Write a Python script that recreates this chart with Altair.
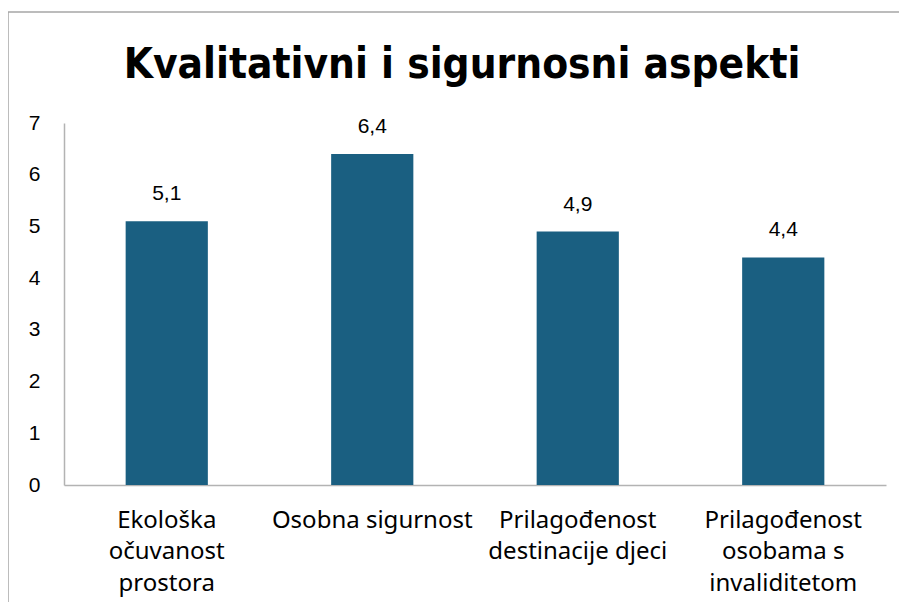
import altair as alt
import pandas as pd

# ---- data ----
category_lines = [
    ["Ekološka", "očuvanost", "prostora"],
    ["Osobna sigurnost"],
    ["Prilagođenost", "destinacije djeci"],
    ["Prilagođenost", "osobama s", "invaliditetom"],
]
values = [5.1, 6.4, 4.9, 4.4]
y_ticks = [0, 1, 2, 3, 4, 5, 6, 7]
title_text = "Kvalitativni i sigurnosni aspekti"

keys = ["|".join(lines) for lines in category_lines]
df = pd.DataFrame({"key": keys, "value": values})

BAR = "#1a5f81"
AXIS = "#b3b3b3"
FRAME = "#a6a6a6"

W, H = 822, 362

frame = alt.Chart(pd.DataFrame({"a": [0]})).mark_rect(
    fill="white", fillOpacity=0, stroke=FRAME, strokeWidth=1.5
).encode(
    x=alt.value(-56), x2=alt.value(W + 100),
    y=alt.value(-111), y2=alt.value(H + 200),
)

title = alt.Chart(pd.DataFrame({"t": [title_text]})).mark_text(
    font="DejaVu Sans Condensed", fontSize=42, fontWeight="bold",
    color="#000000", baseline="alphabetic", align="center",
).encode(text="t:N", x=alt.value(W / 2 - 13), y=alt.value(-45))

base = alt.Chart(df).encode(
    x=alt.X("key:N", sort=keys, title=None,
            scale=alt.Scale(paddingInner=0.6, paddingOuter=0.3),
            axis=alt.Axis(labelExpr="split(datum.value, '|')", labelAngle=0,
                          labelFont="Noto Sans", labelFontSize=24,
                          labelLineHeight=31.5, labelColor="#000000",
                          labelPadding=23, labelBaseline="top",
                          ticks=False, domainColor=AXIS, domainWidth=1.5,
                          labelLimit=300)),
    y=alt.Y("value:Q", title=None,
            scale=alt.Scale(domain=[0, 7], nice=False),
            axis=alt.Axis(values=y_ticks, grid=False, ticks=False,
                          labelFont="Liberation Sans", labelFontSize=21,
                          labelColor="#000000", labelPadding=24,
                          domainColor=AXIS, domainWidth=1.5)),
)

bars = base.mark_bar(color=BAR)

labels = base.transform_calculate(
    lbl="replace(format(datum.value, '.1f'), '.', ',')"
).mark_text(
    font="Liberation Sans", fontSize=21, color="#000000",
    baseline="alphabetic", dy=-21,
).encode(text="lbl:N")

chart = alt.layer(frame, title, bars, labels).properties(
    width=W, height=H,
    padding={"left": 56, "top": 115, "right": 13, "bottom": 117},
    autosize=alt.AutoSizeParams(type="none"),
).configure_view(stroke=None)

chart.save("out.html", embed_options={"renderer": "svg", "actions": False})
